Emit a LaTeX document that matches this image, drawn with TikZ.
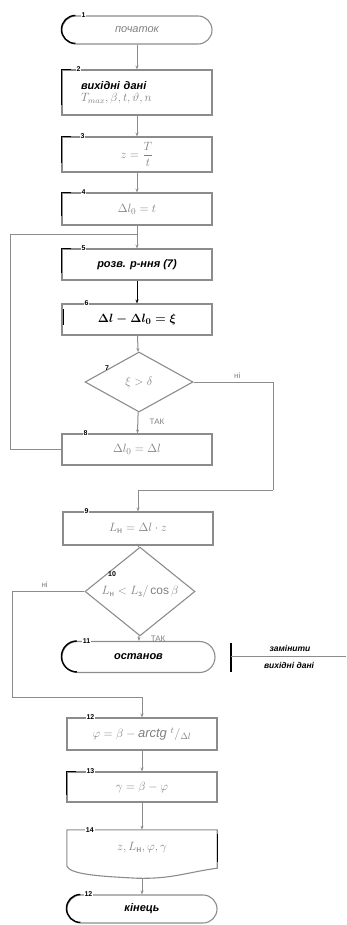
\documentclass[tikz,border=0pt]{standalone}
\usepackage{amsmath}
\usepackage{fontspec}
\setmainfont{Liberation Sans}
\usetikzlibrary{shapes.geometric,arrows.meta}
\definecolor{ln}{gray}{0.55}
\definecolor{tx}{gray}{0.5}
\begin{document}
\begin{tikzpicture}[x=1pt,y=-1pt,
 every node/.style={font=\itshape\fontsize{11}{13}\selectfont},
 box/.style={draw=ln, line width=1.1pt, rectangle, minimum width=150pt, inner sep=0pt, text=tx},
 term/.style={draw=ln, line width=1.1pt, rectangle, minimum width=150pt, inner sep=0pt, text=tx},
 dec/.style={draw=ln, line width=1.1pt, diamond, inner sep=0pt, text=tx},
 mth/.style={font=\fontsize{13}{15}\selectfont},
 num/.style={fill=white, inner sep=1pt, font=\bfseries\fontsize{7}{8}\selectfont, text=black},
 flow/.style={draw=ln, line width=1pt, -{Stealth[length=4pt,width=3pt]}},
 link/.style={draw=ln, line width=1pt},
 lbl/.style={text=tx, font=\fontsize{8}{9}\selectfont},
 brk/.style={draw=black, line width=1.4pt},
 blk/.style={text=black, font=\bfseries\itshape\fontsize{11}{13}\selectfont}
]
\useasboundingbox (0,0) rectangle (346,925);

% nodes
\node[term, rounded corners=14pt, minimum height=28pt] (n1) at (137,30) {початок};
\node[box, minimum height=45pt, text width=112pt, align=left] (n2) at (137,92.5)
  {{\color{black}\bfseries вихідні дані}\\[-1pt] {\fontsize{12}{14}\selectfont$T_{max},\beta,t,\vartheta,n$}};
\node[box, mth, minimum height=35pt] (n3) at (137,154.5) {$z=\dfrac{T}{t}$};
\node[box, mth, minimum height=32pt] (n4) at (137,209) {$\Delta l_0=t$};
\node[box, minimum height=31pt, blk] (n5) at (137,264.5) {розв. р-ння (7)};
\node[box, mth, minimum height=31pt, text=black] (n6) at (137,319.5) {$\boldsymbol{\Delta l-\Delta l_0=\xi}$};
\node[dec, mth, minimum width=108pt, minimum height=60pt] (n7) at (139,382) {$\xi>\delta$};
\node[box, mth, minimum height=31pt] (n8) at (137,449.5) {$\Delta l_0=\Delta l$};
\node[box, mth, minimum height=33pt] (n9) at (138,528.5) {$L_{\text{н}}=\Delta l\cdot z$};
\node[dec, minimum width=110pt, minimum height=57pt, font=\fontsize{12}{14}\selectfont] (n10) at (140,591.5) {$L_{\text{н}}<L_{\text{з}}/\cos\beta$};
\node[term, rounded corners=15.5pt, minimum width=153pt, minimum height=31pt, blk] (n11) at (138.5,657) {останов};
\node[box, mth, minimum height=32pt] (n12) at (142,734) {$\varphi=\beta-\mathit{arctg}\ {}^{t}/{}_{\Delta l}$};
\node[box, mth, minimum height=30pt] (n13) at (142,787) {$\gamma=\beta-\varphi$};
\node[mth, minimum width=150pt, minimum height=36pt, inner sep=0pt, text=tx] (n14) at (142,848) {$z,L_{\text{н}},\varphi,\gamma$};
\node[term, rounded corners=14pt, minimum height=28pt, blk] (n15) at (142,909) {кінець};

% document shape of block 14
\draw[ln, line width=1.1pt] (n14.south west) -- (n14.north west) -- (n14.north east) -- ([yshift=-2pt]n14.south east)
  .. controls +(-30,4) and +(35,1) .. ([xshift=70pt,yshift=-12pt]n14.south west)
  .. controls +(-40,-2) and +(4,8) .. (n14.south west);
\draw[brk] ([yshift=-4pt]n14.north east) -- ([yshift=-32pt]n14.north east);

% black brackets
\foreach \n/\h in {n2/36,n3/27,n4/24,n5/25,n13/24}{
  \draw[brk] ([xshift=10pt]\n.north west) -- (\n.north west) -- ([yshift=-\h pt]\n.north west);
}
\draw[brk] ([xshift=2pt,yshift=-6pt]n6.north west) -- ([xshift=2pt,yshift=-22pt]n6.north west);
\foreach \n/\r in {n1/14,n11/15.5,n15/14}{
  \draw[brk] ([xshift=\r pt]\n.north west) arc[start angle=90, end angle=270, radius=\r pt];
}

% number labels
\node[num] (l1) at ([xshift=22pt]n1.north west) {1};
\node[num] (l2) at ([xshift=17pt]n2.north west) {2};
\node[num] (l3) at ([xshift=21pt]n3.north west) {3};
\node[num] (l4) at ([xshift=22pt]n4.north west) {4};
\node[num] (l5) at ([xshift=22pt]n5.north west) {5};
\node[num] (l6) at ([xshift=25pt]n6.north west) {6};
\node[num, fill=none] (l7) at (107,368) {7};
\node[num] (l8) at ([xshift=24pt]n8.north west) {8};
\node[num] (l9) at ([xshift=24pt]n9.north west) {9};
\node[num, fill=none] (l10) at (112,574) {10};
\node[num] (l11) at ([xshift=25pt]n11.north west) {11};
\node[num] (l12) at ([xshift=24pt]n12.north west) {12};
\node[num] (l13) at ([xshift=24pt]n13.north west) {13};
\node[num] (l14) at ([xshift=23pt]n14.north west) {14};
\node[num] (l15) at ([xshift=22pt]n15.north west) {12};

% connectors
\coordinate (j1) at (10,234);
\coordinate (j1b) at (n4.south |- j1);
\coordinate (j2) at (273,382);
\coordinate (j3) at (273,490);
\coordinate (j4) at (n9.north |- j3);
\coordinate (j5) at (12,591.5);
\coordinate (j6) at (12,697);
\coordinate (j7) at (n12.north |- j6);

\draw[flow] (n1) -- (n2);
\draw[flow] (n2) -- (n3);
\draw[flow] (n3) -- (n4);
\draw[flow] (n4) -- (n5);
\draw[flow, draw=black] (n5) -- (n6);
\draw[flow] (n6) -- (n7);
\draw[flow] (n7) -- node[lbl, right=8pt, pos=0.45] (t1) {ТАК} (n8);
\draw[link] (n8.west) -- (n8.west -| j1) -- (j1) -- (j1b);
\draw[link] (n7.east) -- node[lbl, above, pos=0.55] (t2) {ні} (j2) -- (j3);
\draw[flow] (j3) -- (j4) -- (n9);
\draw[flow] (n9) -- (n10);
\draw[flow] (n10) -- node[lbl, right=8pt, pos=0.6] (t3) {ТАК} (n11);
\draw[link] (n10.west) -- node[lbl, above, pos=0.55] (t4) {ні} (j5) -- (j6);
\draw[flow] (j6) -- (j7) -- (n12);
\draw[flow] (n12) -- (n13);
\draw[flow] (n13) -- (n14);
\draw[flow] ([yshift=-12pt]n14.south) -- (n15);

% comment on block 11
\coordinate (c1) at (231,643);
\coordinate (c2) at (231,672);
\coordinate (c3) at (231,656);
\coordinate (c4) at (346,656);
\draw[brk, line width=1.2pt] (c1) -- (c2);
\draw[draw=ln, line width=0.9pt] (c3) -- (c4);
\node[blk, font=\bfseries\itshape\fontsize{8.5}{10}\selectfont] (k1) at (290,648) {замінити};
\node[blk, font=\bfseries\itshape\fontsize{8.5}{10}\selectfont] (k2) at (289,665) {вихідні дані};
\end{tikzpicture}
\end{document}
